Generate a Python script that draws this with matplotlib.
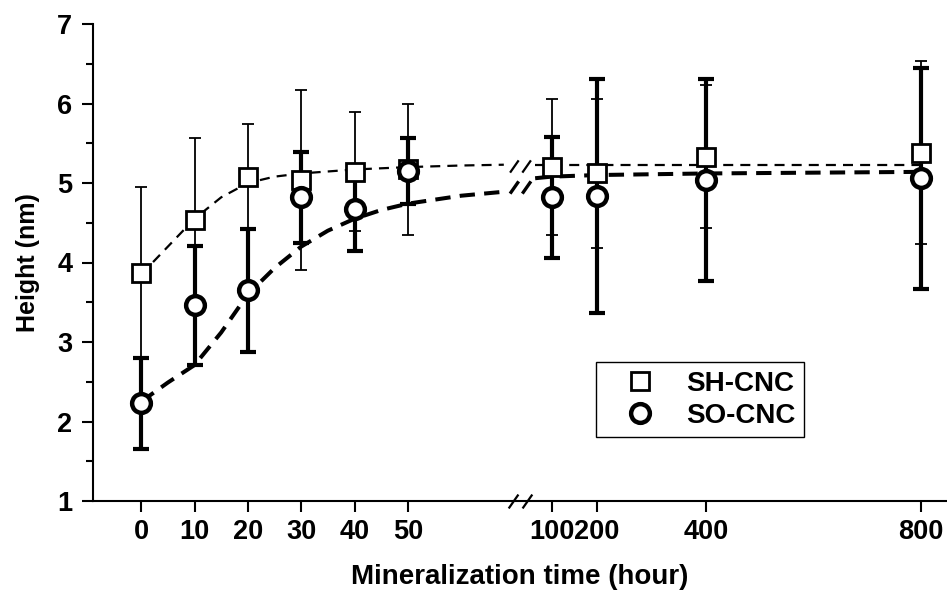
import numpy as np
import matplotlib
matplotlib.use("Agg")
import matplotlib.pyplot as plt
from matplotlib.lines import Line2D
from matplotlib.path import Path

plt.rcParams['font.family'] = ['Liberation Sans', 'DejaVu Sans']
plt.rcParams['font.weight'] = 'bold'

# ---------------- data ----------------
time_h = [0, 10, 20, 30, 40, 50, 100, 200, 400, 800]
sh_mean = [3.87, 4.54, 5.08, 5.04, 5.14, 5.17, 5.20, 5.12, 5.33, 5.38]
sh_err = [1.08, 1.02, 0.66, 1.13, 0.75, 0.83, 0.86, 0.94, 0.90, 1.15]
so_mean = [2.23, 3.46, 3.65, 4.82, 4.67, 5.15, 4.82, 4.84, 5.04, 5.06]
so_err = [0.57, 0.75, 0.77, 0.57, 0.52, 0.41, 0.76, 1.47, 1.27, 1.39]

# fitted (dashed) curves, left and right of the axis break
sh_fit_left_x = [0, 5, 10, 15, 20, 25, 30, 40, 50, 60, 68]
sh_fit_left_y = [3.85, 4.20, 4.55, 4.82, 5.00, 5.08, 5.12, 5.17, 5.20, 5.22, 5.23]
so_fit_left_x = [0, 5, 10, 15, 20, 25, 30, 35, 40, 45, 50, 60, 68]
so_fit_left_y = [2.25, 2.49, 2.71, 3.12, 3.60, 3.93, 4.20, 4.40, 4.55, 4.66, 4.74, 4.84, 4.89]
sh_fit_right_x = [85, 100, 200, 400, 800]
sh_fit_right_y = [5.23, 5.23, 5.23, 5.23, 5.23]
so_fit_right_x = [85, 100, 200, 400, 800]
so_fit_right_y = [5.06, 5.08, 5.10, 5.12, 5.14]

x_ticks = [0, 10, 20, 30, 40, 50, 100, 200, 400, 800]
x_break = 71
sh_break_y = 5.22
so_break_y = 4.95

# broken x axis as a piecewise-linear scale
scale_x = [-20, 71, 100, 200, 400, 800, 900]
scale_u = [-20, 71, 76.95, 85.4, 105.9, 146.2, 156.3]


def fwd(x):
    return np.interp(x, scale_x, scale_u)


def inv(u):
    return np.interp(u, scale_u, scale_x)


fig = plt.figure(figsize=(9.47, 5.93), dpi=100)
ax = fig.add_axes([93 / 947, 92 / 593, 854 / 947, 477 / 593])
ax.set_xscale('function', functions=(fwd, inv))

# fit curves
ax.plot(sh_fit_left_x, sh_fit_left_y, color='black', lw=1.6, ls=(0, (4.5, 3.2)), zorder=2)
ax.plot(sh_fit_right_x, sh_fit_right_y, color='black', lw=1.6, ls=(0, (4.5, 3.2)), zorder=2)
ax.plot(so_fit_left_x, so_fit_left_y, color='black', lw=2.9, ls=(0, (3.8, 2.3)), zorder=2)
ax.plot(so_fit_right_x, so_fit_right_y, color='black', lw=2.9, ls=(0, (3.8, 2.3)), zorder=2)

# error bars + markers
ax.errorbar(time_h, sh_mean, yerr=sh_err, fmt='none', ecolor='black', elinewidth=1.3,
            capsize=4.5, capthick=1.3, zorder=3)
ax.errorbar(time_h, so_mean, yerr=so_err, fmt='none', ecolor='black', elinewidth=3.0,
            capsize=5.5, capthick=3.0, zorder=4)
ax.plot(time_h, sh_mean, ls='none', marker='s', ms=12.5, mfc='white', mec='black', mew=2.0, zorder=5)
ax.plot(time_h, so_mean, ls='none', marker='o', ms=13.5, mfc='white', mec='black', mew=3.2, zorder=6)

# break marks
slash = Path([(-0.85, -0.5), (-0.15, 0.5), (0.15, -0.5), (0.85, 0.5)],
             [Path.MOVETO, Path.LINETO, Path.MOVETO, Path.LINETO])
ax.plot([x_break], [sh_break_y], ls='none', marker=slash, ms=15, mec='black', mew=1.6, zorder=7)
ax.plot([x_break], [so_break_y], ls='none', marker=slash, ms=15, mec='black', mew=2.4, zorder=7)
ax.plot([x_break], [1], ls='none', marker=slash, ms=17, mec='black', mew=1.6, zorder=8, clip_on=False)

ax.set_xlim(-9.04, 848.6)
ax.set_ylim(1, 7)
ax.set_xticks(x_ticks)
ax.set_xticklabels([str(t) for t in x_ticks])
ax.set_yticks(range(1, 8))
ax.set_yticks(np.arange(1.5, 7, 1.0), minor=True)
ax.xaxis.set_minor_locator(matplotlib.ticker.NullLocator())

for s in ['top', 'right']:
    ax.spines[s].set_visible(False)
for s in ['left', 'bottom']:
    ax.spines[s].set_linewidth(1.5)

ax.tick_params(axis='both', which='major', direction='out', length=8, width=1.5,
               labelsize=19.5, pad=5)
ax.tick_params(axis='y', which='minor', direction='out', length=5, width=1.5)
ax.tick_params(axis='y', which='major', pad=7)
for lab in ax.get_xticklabels() + ax.get_yticklabels():
    lab.set_fontweight('bold')

ax.set_xlabel('Mineralization time (hour)', fontsize=20, fontweight='bold', labelpad=14)
ax.set_ylabel('Height (nm)', fontsize=18, fontweight='bold', labelpad=12)

handles = [
    Line2D([], [], ls='none', marker='s', ms=12.5, mfc='white', mec='black', mew=2.0),
    Line2D([], [], ls='none', marker='o', ms=13.5, mfc='white', mec='black', mew=3.2),
]
leg = ax.legend(handles, ['SH-CNC', 'SO-CNC'], loc='lower left', bbox_to_anchor=(0.589, 0.134),
                borderaxespad=0, fancybox=False, framealpha=1, edgecolor='black',
                prop={'size': 20, 'weight': 'bold'}, handletextpad=0.35, borderpad=0.3,
                labelspacing=0.22, handlelength=2.6)
leg.get_frame().set_linewidth(1.0)

fig.savefig('out.png', dpi=100)
